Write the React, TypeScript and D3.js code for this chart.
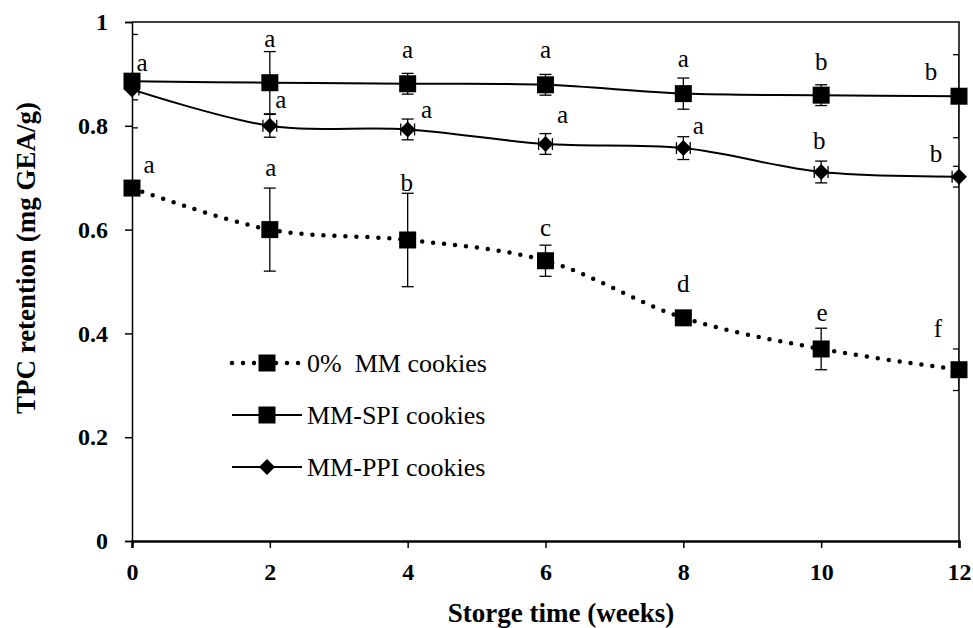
import React, { useEffect, useRef } from 'react';
import * as d3 from 'd3';

// storage weeks and the three cookie series (TPC retention, mg GEA/g)
const weeks = [0, 2, 4, 6, 8, 10, 12];
const mm0 = [0.68, 0.60, 0.58, 0.54, 0.43, 0.37, 0.33];
const mm0Err = [0.01, 0.08, 0.09, 0.03, 0.01, 0.04, 0.04];
const spi = [0.886, 0.883, 0.881, 0.879, 0.862, 0.859, 0.857];
const spiErr = [0.09, 0.06, 0.02, 0.02, 0.03, 0.02, 0.08];
const ppi = [0.87, 0.80, 0.793, 0.765, 0.757, 0.711, 0.702];
const ppiErr = [0.02, 0.022, 0.02, 0.02, 0.022, 0.021, 0.02];

const mm0Letters = ['a', 'a', 'b', 'c', 'd', 'e', 'f'];
const spiLetters = ['a', 'a', 'a', 'a', 'a', 'b', 'b'];
const ppiLetters = ['', 'a', 'a', 'a', 'a', 'b', 'b'];

const yTicks = [0, 0.2, 0.4, 0.6, 0.8, 1];
const xTicks = [0, 2, 4, 6, 8, 10, 12];
const legendNames = ['0%  MM cookies', 'MM-SPI cookies', 'MM-PPI cookies'];

// hand nudges for the significance letters (pixels from the marker to the letter centre)
const mm0Nudge = [[17, -21], [1, -60], [-1, -58], [0, -31], [0, -35], [1, -34], [-21, -42]];
const spiNudge = [[10, -16], [0, -42], [0, -32], [0, -33], [0, -33], [0, -34], [-28, -25]];
const ppiNudge = [[0, 0], [11, -24], [19, -17], [17, -27], [15, -20], [-2, -32], [-23, -24]];

const FONT = 'Liberation Serif, Times New Roman, DejaVu Serif, serif';

const App = () => {
    const svgRef = useRef<SVGSVGElement>(null);

    useEffect(() => {
        const svg = d3.select(svgRef.current);
        svg.selectAll('*').remove();

        const width = 973;
        const height = 628;
        const margin = { top: 22, right: 14, bottom: 87, left: 132 };

        const x = d3.scaleLinear().domain([0, 12]).range([margin.left, width - margin.right]);
        const y = d3.scaleLinear().domain([0, 1]).range([height - margin.bottom, margin.top]);

        svg.append('rect').attr('width', width).attr('height', height).attr('fill', '#fff');

        svg.append('clipPath').attr('id', 'plotclip')
            .append('rect')
            .attr('x', x(0)).attr('y', y(1))
            .attr('width', x(12) - x(0)).attr('height', y(0) - y(1));

        // frame (top and right)
        svg.append('path')
            .attr('d', `M${x(0)},${y(1)}H${x(12)}V${y(0)}`)
            .attr('fill', 'none').attr('stroke', '#000').attr('stroke-width', 1.5);

        // y axis
        const yAxis = svg.append('g')
            .attr('transform', `translate(${x(0)},0)`)
            .call(d3.axisLeft(y).tickValues(yTicks).tickSize(7).tickPadding(17)
                .tickFormat(d => d3.format('')(d as number)));
        yAxis.select('.domain').attr('stroke-width', 1.5);
        yAxis.selectAll('.tick line').attr('stroke-width', 1.5);
        yAxis.selectAll('text')
            .style('font-family', FONT).style('font-size', '24px').style('font-weight', 'bold')
            .attr('fill', '#000');

        // x axis
        const xAxis = svg.append('g')
            .attr('transform', `translate(0,${y(0)})`)
            .call(d3.axisBottom(x).tickValues(xTicks).tickSize(7).tickPadding(15));
        xAxis.select('.domain').attr('stroke-width', 2.5);
        xAxis.selectAll('.tick line').attr('stroke-width', 1.5);
        xAxis.selectAll('text')
            .style('font-family', FONT).style('font-size', '24px').style('font-weight', 'bold')
            .attr('fill', '#000');

        // axis titles
        svg.append('text')
            .attr('x', 561).attr('y', 622)
            .attr('text-anchor', 'middle')
            .style('font-family', FONT).style('font-size', '27px').style('font-weight', 'bold')
            .text('Storge time (weeks)');
        svg.append('text')
            .attr('transform', `translate(35,258) rotate(-90)`)
            .attr('text-anchor', 'middle')
            .style('font-family', FONT).style('font-size', '27px').style('font-weight', 'bold')
            .text('TPC retention (mg GEA/g)');

        const plot = svg.append('g').attr('clip-path', 'url(#plotclip)');
        const line = d3.line<number>()
            .x((d, i) => x(weeks[i]))
            .y(d => y(d))
            .curve(d3.curveCatmullRom.alpha(0.5));

        const series = [
            { vals: mm0, err: mm0Err, letters: mm0Letters, nudge: mm0Nudge, dotted: true, marker: 'square', xErr: 0 },
            { vals: spi, err: spiErr, letters: spiLetters, nudge: spiNudge, dotted: false, marker: 'square', xErr: 0 },
            { vals: ppi, err: ppiErr, letters: ppiLetters, nudge: ppiNudge, dotted: false, marker: 'diamond', xErr: 0.1 },
        ];

        const cap = 6;
        series.forEach(s => {
            // error bars
            s.vals.forEach((v, i) => {
                const cx = x(weeks[i]);
                const g = plot.append('g').attr('stroke', '#000').attr('stroke-width', 1.3);
                g.append('line').attr('x1', cx).attr('x2', cx)
                    .attr('y1', y(v - s.err[i])).attr('y2', y(v + s.err[i]));
                [v - s.err[i], v + s.err[i]].forEach(e => {
                    g.append('line').attr('x1', cx - cap).attr('x2', cx + cap)
                        .attr('y1', y(e)).attr('y2', y(e));
                });
                if (s.xErr) {
                    const x0 = x(weeks[i] - s.xErr), x1 = x(weeks[i] + s.xErr);
                    g.append('line').attr('x1', x0).attr('x2', x1).attr('y1', y(v)).attr('y2', y(v));
                    [x0, x1].forEach(xx => {
                        g.append('line').attr('x1', xx).attr('x2', xx)
                            .attr('y1', y(v) - cap).attr('y2', y(v) + cap);
                    });
                }
            });

            // line
            const p = plot.append('path')
                .attr('d', line(s.vals))
                .attr('fill', 'none').attr('stroke', '#000');
            if (s.dotted) {
                p.attr('stroke-width', 4.5).attr('stroke-linecap', 'round').attr('stroke-dasharray', '0 11');
            } else {
                p.attr('stroke-width', 2);
            }
        });

        // markers on top
        const drawMarker = (g, kind, cx, cy) => {
            if (kind === 'square') {
                g.append('rect').attr('x', cx - 8.5).attr('y', cy - 8.5)
                    .attr('width', 17).attr('height', 17).attr('fill', '#000');
            } else {
                g.append('path')
                    .attr('d', `M${cx},${cy - 8}L${cx + 8},${cy}L${cx},${cy + 8}L${cx - 8},${cy}Z`)
                    .attr('fill', '#000');
            }
        };
        const markers = svg.append('g');
        series.forEach(s => {
            s.vals.forEach((v, i) => drawMarker(markers, s.marker, x(weeks[i]), y(v)));
        });

        // significance letters
        series.forEach(s => {
            s.vals.forEach((v, i) => {
                const l = s.letters[i];
                if (!l) return;
                const tall = 'bdf'.includes(l);
                svg.append('text')
                    .attr('x', x(weeks[i]) + s.nudge[i][0])
                    .attr('y', y(v) + s.nudge[i][1] + (tall ? 9 : 6))
                    .attr('text-anchor', 'middle')
                    .style('font-family', FONT).style('font-size', '25px')
                    .text(l);
            });
        });

        // legend
        const legend = svg.append('g');
        const lx0 = 232, lx1 = 302, ly = 363, gap = 52;
        series.forEach((s, i) => {
            const yy = ly + i * gap;
            const l = legend.append('line')
                .attr('x1', lx0).attr('x2', lx1).attr('y1', yy).attr('y2', yy)
                .attr('stroke', '#000');
            if (s.dotted) {
                l.attr('stroke-width', 4.5).attr('stroke-linecap', 'round').attr('stroke-dasharray', '0 11');
            } else {
                l.attr('stroke-width', 2);
            }
            drawMarker(legend, s.marker, (lx0 + lx1) / 2, yy);
            legend.append('text')
                .attr('x', lx1 + 5).attr('y', yy + 9)
                .style('font-family', FONT).style('font-size', '26px').style('white-space', 'pre')
                .text(legendNames[i]);
        });
    }, []);

    return (
        <svg ref={svgRef} width={973} height={628}
            style={{ position: 'absolute', left: 0, top: 0, display: 'block' }} />
    );
};

export default App;
